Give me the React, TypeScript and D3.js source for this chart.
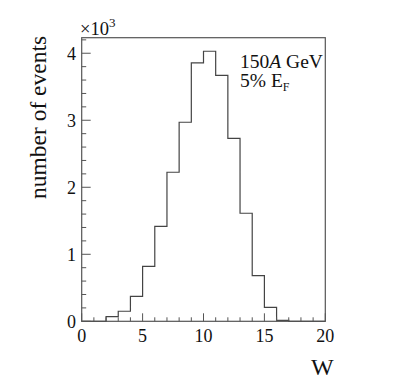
import React from "react";
import * as d3 from "d3";

const binEdges = [0, 1, 2, 3, 4, 5, 6, 7, 8, 9, 10, 11, 12, 13, 14, 15, 16, 17, 18, 19, 20];
const counts = [0, 0, 69, 150, 373, 821, 1418, 2224, 2970, 3855, 4030, 3670, 2731, 1612, 681, 209, 15, 0, 0, 0];
const xTicks = [0, 5, 10, 15, 20];
const yTicks = [0, 1000, 2000, 3000, 4000];
const yTickLabels = ["0", "1", "2", "3", "4"];
const legendLines = ["150", "5%"];

export default function App() {
  const W = 407, H = 379;
  const m = { left: 81.7, right: 325.3, top: 37.7, bottom: 321.3 };
  const x = d3.scaleLinear().domain([0, 20]).range([m.left, m.right]);
  const y = d3.scaleLinear().domain([0, 4232]).range([m.bottom, m.top]);
  const font = "'Liberation Serif', 'Times New Roman', serif";

  let path = `M${x(binEdges[0])},${y(0)}`;
  counts.forEach((c, i) => {
    path += `L${x(binEdges[i])},${y(c)}L${x(binEdges[i + 1])},${y(c)}`;
  });
  path += `L${x(binEdges[binEdges.length - 1])},${y(0)}`;

  const xMinor = d3.range(0, 20.01, 1);
  const yMinor = d3.range(0, 4232, 200);

  return (
    <svg width={W} height={H} style={{ position: "absolute", left: 0, top: 0 }}>
      <rect x={0} y={0} width={W} height={H} fill="white" />
      <path d={path} fill="none" stroke="#444" strokeWidth={1.2} />
      <rect x={m.left} y={m.top} width={m.right - m.left} height={m.bottom - m.top} fill="none" stroke="#555" strokeWidth={1.2} />
      {xMinor.map((t) => (
        <line key={"xm" + t} x1={x(t)} x2={x(t)} y1={m.bottom} y2={m.bottom - (t % 5 === 0 ? 8 : 4)} stroke="#555" strokeWidth={1} />
      ))}
      {yMinor.map((t) => (
        <line key={"ym" + t} x1={m.left} x2={m.left + (t % 1000 === 0 ? 9 : 4.5)} y1={y(t)} y2={y(t)} stroke="#555" strokeWidth={1} />
      ))}
      {xTicks.map((t) => (
        <text key={"xt" + t} x={x(t)} y={342} textAnchor="middle" fontFamily={font} fontSize={18} fill="#111">{t}</text>
      ))}
      {yTicks.map((t, i) => (
        <text key={"yt" + t} x={76} y={y(t) + 6.5} textAnchor="end" fontFamily={font} fontSize={18} fill="#111">{yTickLabels[i]}</text>
      ))}
      <text x={80} y={35} fontFamily={font} fontSize={18.5} fill="#111">×10<tspan dy={-8} fontSize={13}>3</tspan></text>
      <text transform="translate(45.5,199) rotate(-90)" fontFamily={font} fontSize={23.5} fill="#111">number of events</text>
      <text x={311} y={375} fontFamily={font} fontSize={24} fill="#111">W</text>
      <text x={240} y={68} fontFamily={font} fontSize={19.5} fill="#111">{legendLines[0]}<tspan fontStyle="italic">A</tspan> GeV</text>
      <text x={240} y={87} fontFamily={font} fontSize={19.5} fill="#111">{legendLines[1]} E<tspan dy={4} fontSize={12}>F</tspan></text>
    </svg>
  );
}
